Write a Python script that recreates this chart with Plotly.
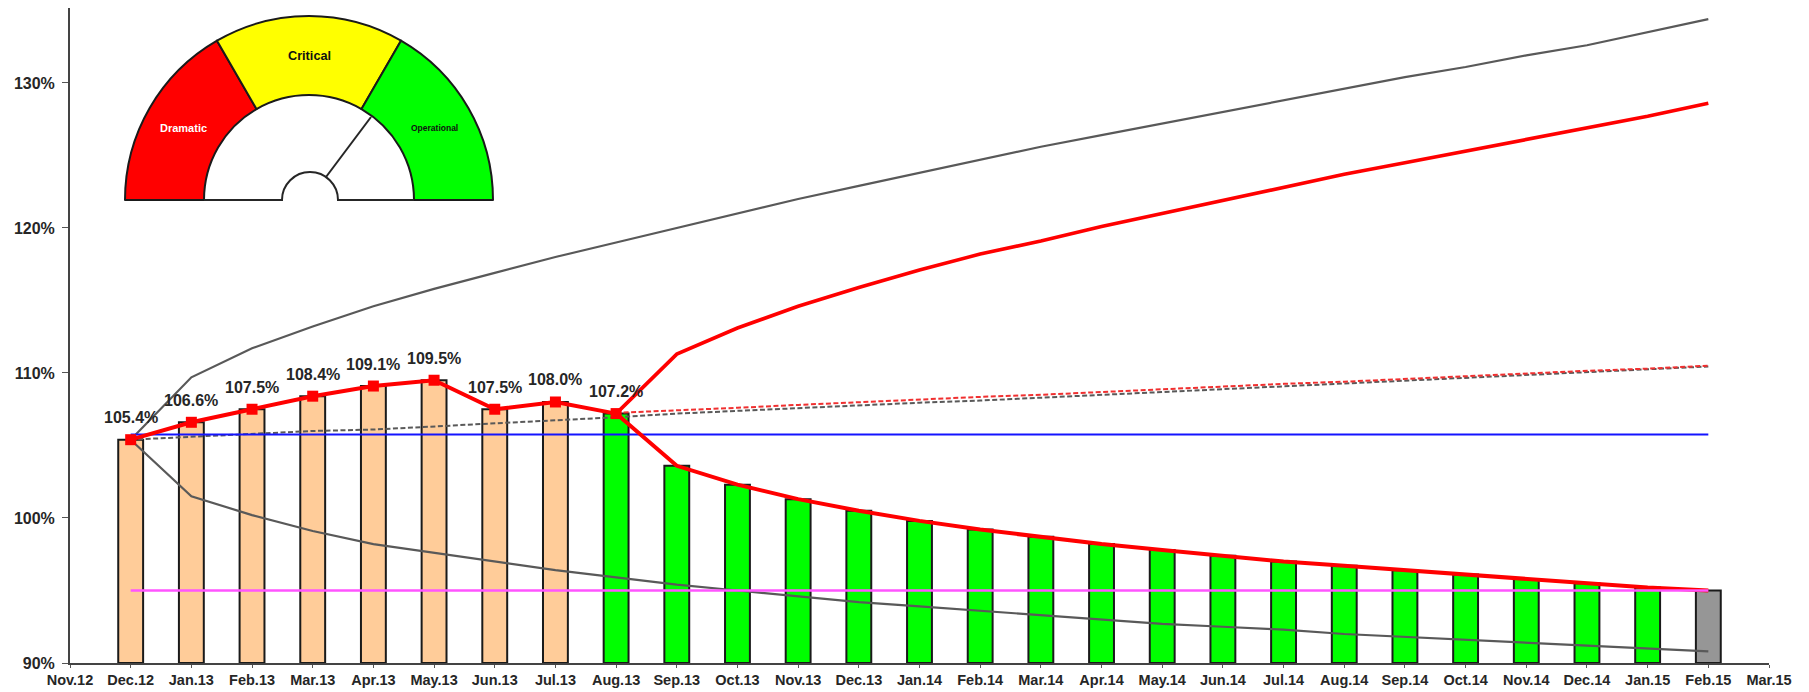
import plotly.graph_objects as go

months = ["Nov.12", "Dec.12", "Jan.13", "Feb.13", "Mar.13", "Apr.13", "May.13", "Jun.13", "Jul.13",
          "Aug.13", "Sep.13", "Oct.13", "Nov.13", "Dec.13", "Jan.14", "Feb.14", "Mar.14", "Apr.14",
          "May.14", "Jun.14", "Jul.14", "Aug.14", "Sep.14", "Oct.14", "Nov.14", "Dec.14", "Jan.15",
          "Feb.15", "Mar.15"]
series_months = months[1:28]   # Dec.12 .. Feb.15
actual_months = months[1:10]   # Dec.12 .. Aug.13
forecast_months = months[9:28] # Aug.13 .. Feb.15

actual = [105.4, 106.6, 107.5, 108.4, 109.1, 109.5, 107.5, 108.0, 107.2]
actual_labels = ["105.4%", "106.6%", "107.5%", "108.4%", "109.1%", "109.5%", "107.5%", "108.0%", "107.2%"]

bars = [105.4, 106.6, 107.5, 108.4, 109.1, 109.5, 107.5, 108.0, 107.2,
        103.6, 102.3, 101.3, 100.5, 99.8, 99.2, 98.7, 98.2, 97.8, 97.4, 97.0,
        96.7, 96.4, 96.1, 95.8, 95.5, 95.2, 95.0]
bar_colors = ["#FFCC99"] * 8 + ["#00FF00"] * 18 + ["#969696"]

red_upper = [107.2, 111.3, 113.1, 114.6, 115.9, 117.1, 118.2, 119.1, 120.1, 121.0, 121.9,
             122.8, 123.7, 124.5, 125.3, 126.1, 126.9, 127.7, 128.6]
red_lower = [107.2, 103.6, 102.3, 101.3, 100.5, 99.8, 99.2, 98.7, 98.2, 97.8, 97.4, 97.0,
             96.7, 96.4, 96.1, 95.8, 95.5, 95.2, 95.0]
red_dash = [107.25, 107.4, 107.6, 107.8, 108.0, 108.15, 108.35, 108.5, 108.7, 108.9, 109.05,
            109.25, 109.4, 109.6, 109.8, 109.95, 110.15, 110.3, 110.5]

gray_upper = [105.4, 109.7, 111.7, 113.2, 114.6, 115.8, 116.9, 118.0, 119.0, 120.0, 121.0,
              122.0, 122.9, 123.8, 124.7, 125.6, 126.4, 127.2, 128.0, 128.8, 129.6, 130.4,
              131.1, 131.9, 132.6, 133.5, 134.4]
gray_lower = [105.4, 101.5, 100.2, 99.1, 98.2, 97.6, 97.0, 96.4, 95.9, 95.4, 95.0, 94.6,
              94.2, 93.9, 93.6, 93.3, 93.0, 92.7, 92.5, 92.3, 92.0, 91.8, 91.6, 91.4, 91.2,
              91.0, 90.8]
gray_dash = [105.4, 105.6, 105.8, 106.0, 106.1, 106.3, 106.5, 106.7, 106.95, 107.2, 107.4,
             107.6, 107.8, 107.95, 108.1, 108.3, 108.5, 108.7, 108.9, 109.1, 109.3, 109.5,
             109.7, 109.85, 110.05, 110.25, 110.45]
blue_level = [105.75] * 27
magenta_level = [95.0] * 27

gauge_labels = ["Dramatic", "Critical", "Operational"]
gauge_sizes = [1, 1, 1, 3]
gauge_colors = ["#FF0000", "#FFFF00", "#00FF00", "rgba(0,0,0,0)"]
y_ticks = [90, 100, 110, 120, 130]
y_tick_labels = ["90%", "100%", "110%", "120%", "130%"]

W, H = 1809, 692
L, R, T, B = 70, 1769, 8, 663
FONT = "Liberation Sans, Arial, sans-serif"
INK = "#262626"


def px(x):
    return (x - L) / (R - L)


def py(y):
    return (B - y) / (B - T)


fig = go.Figure()
fig.add_bar(x=series_months, y=[v - 90 for v in bars], base=90, width=0.41,
            marker=dict(color=bar_colors, line=dict(color="#1a1a1a", width=2)), hoverinfo="skip")


def line(x, y, color, width, dash="solid"):
    fig.add_scatter(x=x, y=y, mode="lines", line=dict(color=color, width=width, dash=dash), hoverinfo="skip")


line(series_months, gray_upper, "#595959", 2.2)
line(series_months, gray_lower, "#595959", 2.2)
line(series_months, gray_dash, "#595959", 2, "5px,2.5px")
line(forecast_months, red_dash, "#F03030", 2, "5px,2.5px")
line(series_months, blue_level, "#1414FF", 2)
line(forecast_months, red_upper, "#FF0000", 3.6)
line(forecast_months, red_lower, "#FF0000", 4)
line(series_months, magenta_level, "#FF55FF", 2.6)
fig.add_scatter(x=actual_months, y=actual, mode="lines+markers",
                line=dict(color="#FF0000", width=4),
                marker=dict(symbol="square", size=11, color="#FF0000"), hoverinfo="skip")

annotations = [dict(x=m, y=v, text=t, showarrow=False, yshift=22, xref="x", yref="y",
                    font=dict(family=FONT, size=16, color=INK, weight="bold"))
               for m, v, t in zip(actual_months, actual, actual_labels)]

# gauge
fig.add_pie(values=gauge_sizes, sort=False, direction="clockwise", rotation=-90, hole=105 / 184,
            textinfo="none", hoverinfo="skip", showlegend=False,
            domain=dict(x=[px(125), px(493)], y=[py(384), py(16)]),
            marker=dict(colors=gauge_colors, line=dict(color="#1a1a1a", width=[2, 2, 2, 0])))
gauge_text_spec = [(183, 128, 11, "white"), (309, 56, 12.7, "#111111"), (434, 128, 8.5, "#111111")]
for name, (tx, ty, size, color) in zip(gauge_labels, gauge_text_spec):
    annotations.append(dict(x=px(tx), y=py(ty), xref="paper", yref="paper", text=name, showarrow=False,
                            xanchor="center", yanchor="middle",
                            font=dict(family=FONT, size=size, color=color, weight="bold")))


def p(x, y):
    return f"{px(x):.5f},{py(y):.5f}"


k = 0.5523 * 28
hub_path = (f"M {p(204, 200)} L {p(282, 200)} "
            f"C {p(282, 200 - k)} {p(310 - k, 172)} {p(310, 172)} "
            f"C {p(310 + k, 172)} {p(338, 200 - k)} {p(338, 200)} "
            f"L {p(414, 200)}")
shapes = [
    dict(type="path", xref="paper", yref="paper", path=hub_path, line=dict(color="#262626", width=2)),
    dict(type="line", xref="paper", yref="paper", x0=px(326), y0=py(177), x1=px(371), y1=py(117),
         line=dict(color="#262626", width=2)),
]

fig.update_layout(
    width=W, height=H, paper_bgcolor="white", plot_bgcolor="white", showlegend=False, barmode="overlay",
    margin=dict(l=L, r=W - R, t=T, b=H - B, pad=0),
    annotations=annotations, shapes=shapes,
    xaxis=dict(type="category", categoryorder="array", categoryarray=months, range=[0, 28], automargin=False,
               tickmode="linear", tick0=0, dtick=1, tickangle=0, ticks="outside", ticklen=3, tickwidth=1,
               tickcolor="#555555", showline=True, linecolor="#444444", linewidth=2, showgrid=False,
               zeroline=False, tickfont=dict(family=FONT, size=14.5, color=INK, weight="bold")),
    yaxis=dict(range=[90, 135.17], automargin=False, tickmode="array", tickvals=y_ticks, ticktext=y_tick_labels,
               ticks="outside", ticklen=6, tickwidth=1, ticklabelstandoff=4, tickcolor="#555555", showline=True,
               linecolor="#444444", linewidth=2, showgrid=False, zeroline=False,
               tickfont=dict(family=FONT, size=16, color=INK, weight="bold")),
)

fig.write_html("out.html", config={"displayModeBar": False},
               post_script="document.body.style.margin='0';document.documentElement.style.overflow='hidden';")
